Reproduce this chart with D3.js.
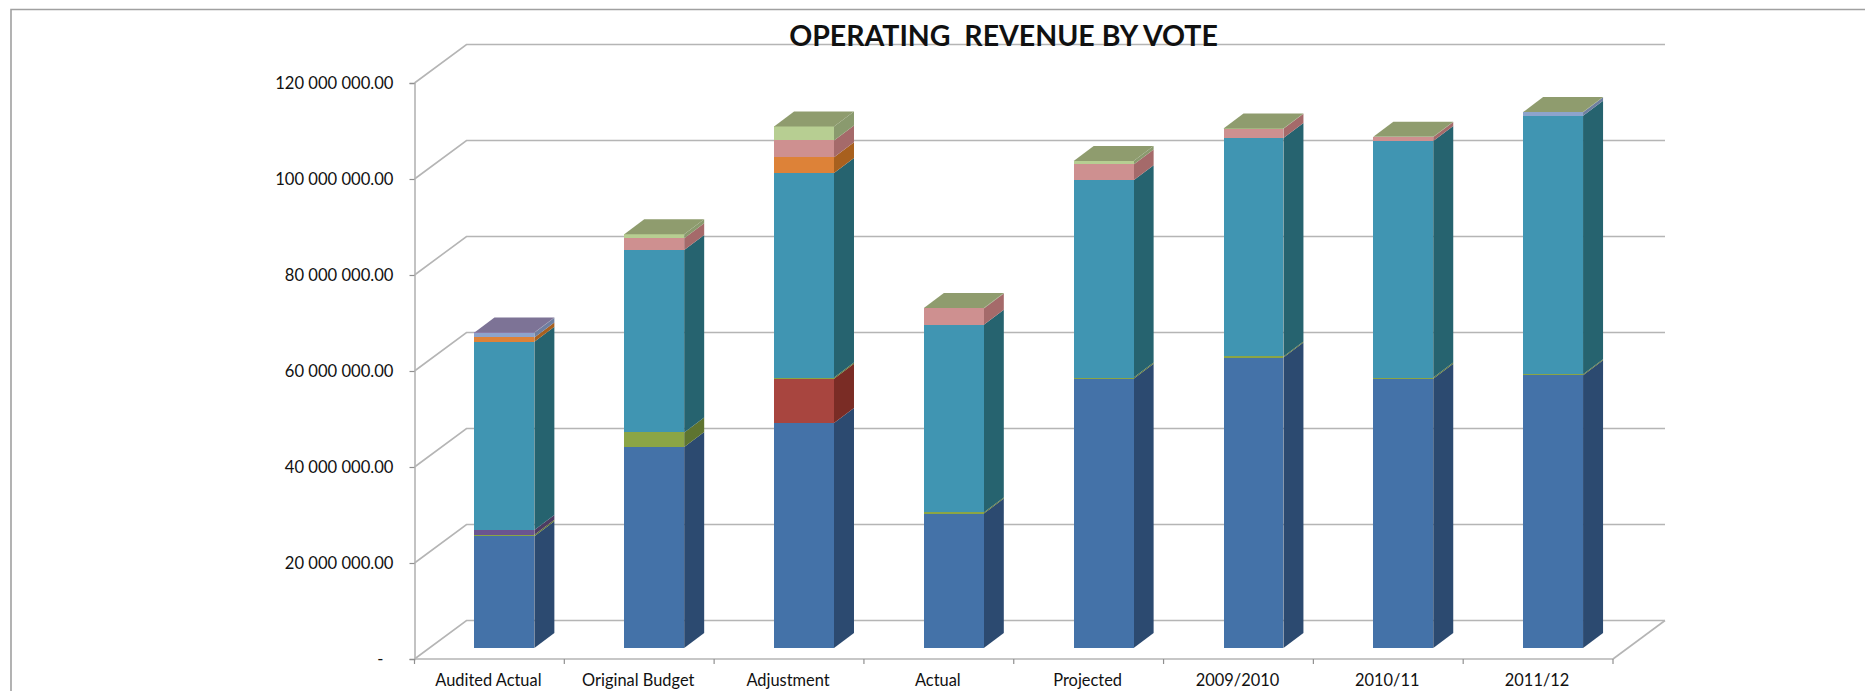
<!DOCTYPE html>
<html>
<head>
<meta charset="utf-8">
<title>Operating revenue by vote</title>
<script src="https://cdn.jsdelivr.net/npm/d3@7/dist/d3.min.js"></script>
<style>
  html, body { margin: 0; padding: 0; background: #fff; }
  svg { display: block; }
  text { font-family: Lato, "Open Sans", sans-serif; fill: #111; }
</style>
</head>
<body>
<svg id="chart" width="1865" height="691"></svg>
<script>
// Column categories
const categories = ["Audited Actual", "Original Budget", "Adjustment", "Actual", "Projected", "2009/2010", "2010/11", "2011/12"];

// Stacked series, in millions, bottom to top
const voteA = [23.3, 41.9, 46.9, 28.0, 56.1, 60.5, 56.1, 56.8];
const voteB = [0, 0, 9.2, 0, 0, 0, 0, 0];
const voteC = [0.3, 3.0, 0.25, 0.25, 0.25, 0.25, 0.25, 0.25];
const voteD = [1.0, 0, 0, 0, 0, 0, 0, 0];
const voteE = [39.2, 38.0, 42.6, 39.1, 41.1, 45.5, 49.3, 53.85];
const voteF = [0.9, 0, 3.3, 0, 0, 0, 0, 0];
const voteG = [1.0, 0, 0, 0, 0, 0, 0, 0.7];
const voteH = [0, 2.45, 3.5, 3.4, 3.3, 1.95, 0.8, 0];
const voteI = [0, 0.85, 2.9, 0.1, 0.7, 0.05, 0.05, 0.05];
const voteJ = [0.05, 0, 0, 0, 0, 0, 0, 0];

const seriesKeys = ["A", "B", "C", "D", "E", "F", "G", "H", "I", "J"];
const seriesValues = [voteA, voteB, voteC, voteD, voteE, voteF, voteG, voteH, voteI, voteJ];
const frontColors = ["#4472a8", "#a8453f", "#8ba545", "#6a5590", "#4095b2", "#dd8238", "#8da4cc", "#ce9090", "#b7ce92", "#9983b5"];
const sideColors = ["#2c4a70", "#7a2c25", "#5e7430", "#4d3b62", "#26636f", "#a8601e", "#6e7fa0", "#a56a6a", "#8a9a6e", "#7d7396"];
const topColors = ["#3a5f8e", "#8a3a34", "#74893a", "#5a4878", "#35788f", "#b86c2c", "#7a8aaa", "#a87a7a", "#8f9c6e", "#7d7396"];

const yTicks = [0, 20, 40, 60, 80, 100, 120];
const chartTitle = "OPERATING  REVENUE BY VOTE";

const svg = d3.select("#chart");
const gridColor = "#b5b5b5";

// Outer chart area border: top and left edges run off the page
svg.append("path")
  .attr("d", d3.line()([[11, 691], [11, 9.5], [1865, 9.5]]))
  .attr("fill", "none").attr("stroke", "#a0a0a0").attr("stroke-width", 1.6);

const x = d3.scaleBand().domain(categories).range([414.5, 1613]);
const y = d3.scaleLinear().domain([0, 120]).range([659, 83]);

// Oblique projection: wall depth, column inset from the front edge, column depth
const wall = { dx: 52, dy: -38.5 };
const inset = { dx: 15, dy: -11 };
const depth = { dx: 20, dy: -15 };
const barWidth = x.bandwidth() * 0.4;

// Wall gridlines: a diagonal on the side wall, then a run along the back wall
const grid = svg.append("g").attr("fill", "none").attr("stroke", gridColor).attr("stroke-width", 1.6);
grid.selectAll("path").data(yTicks).join("path")
  .attr("d", t => d3.line()([
    [x.range()[0], y(t)],
    [x.range()[0] + wall.dx, y(t) + wall.dy],
    [x.range()[1] + wall.dx, y(t) + wall.dy]
  ]));
// Floor's right edge
grid.append("path").attr("d", d3.line()([
  [x.range()[1], y(0)],
  [x.range()[1] + wall.dx, y(0) + wall.dy]
]));

// Value axis
const fmt = d3.formatLocale({ decimal: ".", thousands: " ", grouping: [3], currency: ["", ""] }).format(",.2f");
const yAxis = svg.append("g")
  .attr("transform", `translate(${x.range()[0]},0)`)
  .call(d3.axisLeft(y).tickValues(yTicks).tickSize(5).tickPadding(16)
    .tickFormat(t => t === 0 ? "-" : fmt(t * 1e6)));
yAxis.select(".domain").attr("stroke", gridColor).attr("stroke-width", 1.6);
yAxis.selectAll(".tick line").attr("stroke", "#909090").attr("stroke-width", 1.2);
yAxis.selectAll(".tick text").attr("font-size", 16.6).attr("font-family", "Lato, sans-serif").attr("fill", "#111");
yAxis.selectAll(".tick").filter(t => t === 0).select("text").attr("dx", -10);

// Category axis: ticks fall on the band boundaries
const xAxis = svg.append("g").attr("transform", `translate(0,${y(0)})`);
xAxis.append("path").attr("d", d3.line()([[x.range()[0], 0], [x.range()[1], 0]]))
  .attr("stroke", gridColor).attr("stroke-width", 1.6);
const boundaries = categories.map(c => x(c)).concat(x.range()[1]);
xAxis.selectAll("line").data(boundaries).join("line")
  .attr("x1", d => d).attr("x2", d => d).attr("y1", 0).attr("y2", 5)
  .attr("stroke", "#909090").attr("stroke-width", 1.2);
xAxis.selectAll("text").data(categories).join("text")
  .attr("x", c => x(c) + x.bandwidth() / 2 - 1)
  .attr("y", 27)
  .attr("text-anchor", "middle")
  .attr("font-size", 16.4)
  .text(c => c);

// Stack the series per category
const rows = categories.map((c, i) => {
  const row = { category: c };
  seriesKeys.forEach((k, s) => { row[k] = seriesValues[s][i]; });
  return row;
});
const stacked = d3.stack().keys(seriesKeys)(rows);

const poly = d3.line();
const columns = svg.append("g").selectAll("g").data(rows).join("g");

columns.each(function (row, i) {
  const g = d3.select(this);
  const left = x(row.category) + (x.bandwidth() - barWidth) / 2 + inset.dx;
  const right = left + barWidth;
  const yAt = v => y(v) + inset.dy;
  const segments = stacked
    .map((layer, s) => ({ s, y0: layer[i][0], y1: layer[i][1] }))
    .filter(d => d.y1 > d.y0);

  // Side faces
  g.selectAll("path.side").data(segments).join("path").attr("class", "side")
    .attr("fill", d => sideColors[d.s])
    .attr("d", d => poly([
      [right, yAt(d.y0)],
      [right + depth.dx, yAt(d.y0) + depth.dy],
      [right + depth.dx, yAt(d.y1) + depth.dy],
      [right, yAt(d.y1)]
    ]) + "Z");

  // Front faces
  g.selectAll("rect.front").data(segments).join("rect").attr("class", "front")
    .attr("x", left).attr("width", barWidth)
    .attr("y", d => yAt(d.y1))
    .attr("height", d => yAt(d.y0) - yAt(d.y1))
    .attr("fill", d => frontColors[d.s])
    .attr("shape-rendering", "crispEdges");

  // Top cap takes the colour of the uppermost series
  const top = segments[segments.length - 1];
  g.append("path").attr("class", "cap")
    .attr("fill", topColors[top.s])
    .attr("d", poly([
      [left, yAt(top.y1)],
      [left + depth.dx, yAt(top.y1) + depth.dy],
      [right + depth.dx, yAt(top.y1) + depth.dy],
      [right, yAt(top.y1)]
    ]) + "Z");
});

// Title sits over the topmost gridline
svg.append("text")
  .attr("x", 1003.5).attr("y", 46)
  .attr("text-anchor", "middle")
  .attr("font-size", 28.5)
  .attr("font-weight", 700)
  .attr("xml:space", "preserve")
  .style("white-space", "pre")
  .attr("fill", "#000")
  .text(chartTitle);
</script>
</body>
</html>
